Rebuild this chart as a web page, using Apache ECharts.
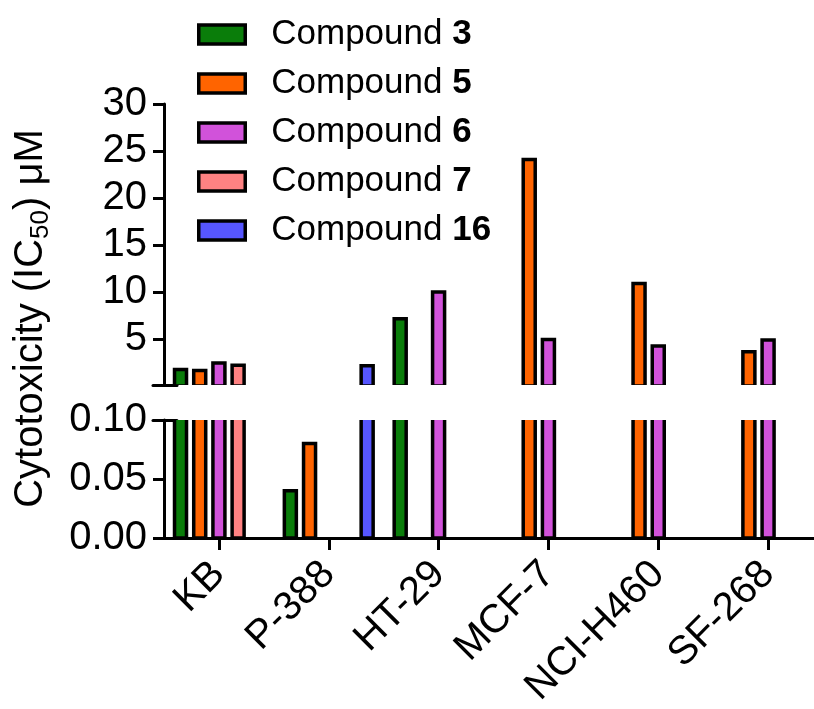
<!DOCTYPE html>
<html>
<head>
<meta charset="utf-8">
<script src="https://cdn.jsdelivr.net/npm/echarts@6/dist/echarts.min.js"></script>
<style>
html,body{margin:0;padding:0;background:#fff;}
#chart{width:814px;height:709px;}
</style>
</head>
<body>
<div id="chart"></div>
<script>
// ---- data ----
const categories = ['KB', 'P-388', 'HT-29', 'MCF-7', 'NCI-H460', 'SF-268'];
const seriesNames = ['Compound 3', 'Compound 5', 'Compound 6', 'Compound 7', 'Compound 16'];
const compound3  = [1.75, 0.04, 7.15, null, null, null];
const compound5  = [1.65, 0.08, null, 24.1, 10.9, 3.65];
const compound6  = [2.45, null, 10.0, 4.95, 4.25, 4.9];
const compound7  = [2.2,  null, null, null, null, null];
const compound16 = [null, 2.15, null, null, null, null];
const upperLabelValues = [5, 10, 15, 20, 25, 30];
const upperTickValues = [0.1, 5, 10, 15, 20, 25, 30];

// ---- style ----
const colors = ['#0A7D0A', '#FF6400', '#D152DA', '#FF8282', '#5656FF'];
const FONT = '"Liberation Sans", Arial, Helvetica, sans-serif';
const BAR_W = 12;
const SLOT = 19.2;
const BORDER = 3.5;
const GRID_LEFT = 164;
const GRID_W = 659;

const allValues = [compound3, compound5, compound6, compound7, compound16];

function makeRender(k) {
  return function (params, api) {
    const v = api.value(1);
    if (isNaN(v)) return null;
    const xi = api.value(0);
    const top = api.coord([xi, v]);
    const base = api.coord([xi, 0]);
    const cs = params.coordSys;
    if (top[1] >= cs.y + cs.height - 0.5) return null; // entirely below this segment
    const cx = top[0] + (k - 2) * SLOT;
    return {
      type: 'rect',
      shape: { x: cx - BAR_W / 2, y: top[1], width: BAR_W, height: base[1] - top[1] },
      style: { fill: colors[k], stroke: '#000', lineWidth: BORDER }
    };
  };
}

const series = [];
[0, 1].forEach(function (g) {
  allValues.forEach(function (vals, k) {
    series.push({
      type: 'custom',
      name: seriesNames[k],
      xAxisIndex: g,
      yAxisIndex: g,
      clip: true,
      itemStyle: { color: colors[k], borderColor: '#000', borderWidth: BORDER },
      encode: { x: 0, y: 1 },
      renderItem: makeRender(k),
      data: vals.map(function (v, i) { return [i, v]; }).filter(function (d) { return d[1] !== null; })
    });
  });
});
// empty helper series so the axis-break marker axes are rendered
[2, 3].forEach(function (xi) {
  series.push({ type: 'line', xAxisIndex: xi, yAxisIndex: 2, data: [], silent: true, symbol: 'none' });
});

const axisLineStyle = { color: '#000', width: 3 };

function breakMarkAxis(position) {
  return {
    type: 'value', gridIndex: 2, position: position, min: 0, max: 1,
    axisLine: { show: true, onZero: false, lineStyle: axisLineStyle },
    axisTick: { show: false }, axisLabel: { show: false }, splitLine: { show: false }
  };
}

const option = {
  animation: false,
  backgroundColor: '#fff',
  textStyle: { fontFamily: FONT, color: '#000' },
  legend: {
    orient: 'vertical',
    left: 197,
    top: 17,
    padding: 0,
    icon: 'rect',
    itemWidth: 46.5,
    itemHeight: 19,
    itemGap: 14,
    itemStyle: { borderColor: '#000', borderWidth: BORDER },
    data: seriesNames,
    formatter: function (name) {
      const parts = name.split(' ');
      return '{n|' + parts[0] + ' }{b|' + parts[1] + '}';
    },
    textStyle: {
      fontFamily: FONT,
      color: '#000',
      rich: {
        n: { fontSize: 35, fontFamily: FONT, color: '#000', padding: [0, 0, 0, 21] },
        b: { fontSize: 35, fontFamily: FONT, color: '#000', fontWeight: 'bold' }
      }
    }
  },
  grid: [
    { left: GRID_LEFT, top: 104, width: GRID_W, height: 281, outerBoundsMode: 'none', containLabel: false },
    { left: GRID_LEFT, top: 420, width: GRID_W, height: 118, outerBoundsMode: 'none', containLabel: false },
    { left: 153, top: 385, width: 24, height: 35, outerBoundsMode: 'none', containLabel: false }
  ],
  xAxis: [
    {
      type: 'category', gridIndex: 0, data: categories,
      axisLine: { show: false }, axisTick: { show: false }, axisLabel: { show: false }, splitLine: { show: false }
    },
    {
      type: 'category', gridIndex: 1, data: categories,
      axisLine: { show: true, lineStyle: axisLineStyle },
      axisTick: { show: true, alignWithLabel: true, interval: 0, length: 12, lineStyle: axisLineStyle },
      axisLabel: { interval: 0, rotate: 45, margin: 30, fontSize: 40, fontFamily: FONT, color: '#000' },
      splitLine: { show: false }
    },
    breakMarkAxis('top'),
    breakMarkAxis('bottom')
  ],
  yAxis: [
    {
      type: 'value', gridIndex: 0, position: 'left', min: 0.1, max: 30,
      name: '{a|Cytotoxicity (IC}{s|50}{a|) μM}',
      nameLocation: 'middle',
      nameGap: 110,
      nameTextStyle: {
        padding: [0, 148, 0, 0],
        rich: {
          a: { fontSize: 40, lineHeight: 46, fontFamily: FONT, color: '#000' },
          s: { fontSize: 26, lineHeight: 26, fontFamily: FONT, color: '#000', verticalAlign: 'bottom' }
        }
      },
      axisLine: { show: true, lineStyle: axisLineStyle },
      axisTick: { show: true, length: 11, lineStyle: axisLineStyle, customValues: upperTickValues },
      axisLabel: { fontSize: 40, margin: 17, fontFamily: FONT, color: '#000', customValues: upperLabelValues },
      splitLine: { show: false }
    },
    {
      type: 'value', gridIndex: 1, position: 'left', min: 0, max: 0.1, interval: 0.05,
      axisLine: { show: true, lineStyle: axisLineStyle },
      axisTick: { show: true, length: 11, lineStyle: axisLineStyle },
      axisLabel: {
        fontSize: 40, margin: 17, fontFamily: FONT, color: '#000',
        formatter: function (v) { return v.toFixed(2); }
      },
      splitLine: { show: false }
    },
    {
      type: 'value', gridIndex: 2, min: 0, max: 1, show: false
    }
  ],
  series: series
};

const chart = echarts.init(document.getElementById('chart'), null, { renderer: 'canvas' });
chart.setOption(option);
</script>
</body>
</html>
